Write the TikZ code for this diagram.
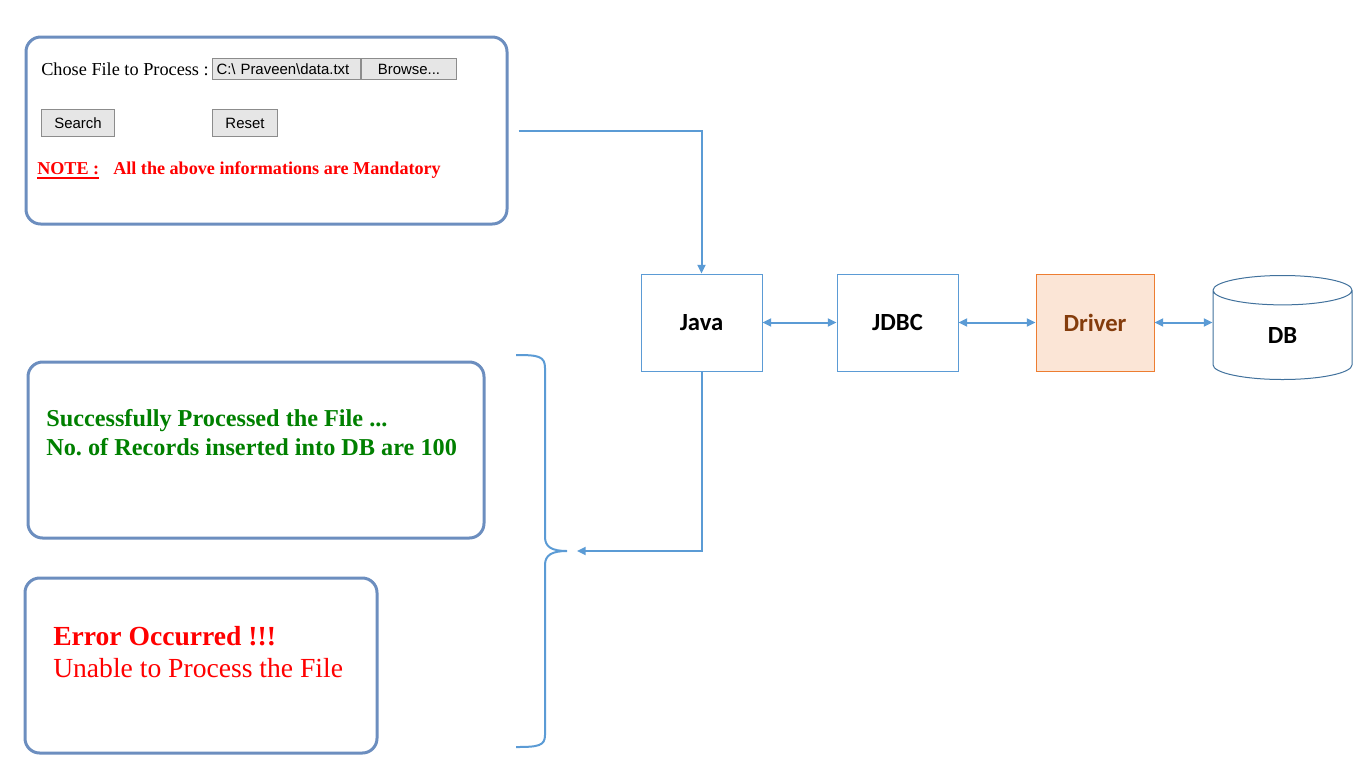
\documentclass[tikz,border=0pt]{standalone}
\usepackage{fontspec}
\usepackage{calc}
\usepackage{xcolor}
\usepackage{tikz}
\setmainfont{Liberation Serif}
\setsansfont{Liberation Sans}
\newfontfamily\calibri{Carlito}
\usetikzlibrary{positioning,arrows.meta,shapes.geometric}

\definecolor{panelblue}{HTML}{6C8EBF}
\definecolor{flowblue}{HTML}{5B9BD5}
\definecolor{dbedge}{HTML}{41719C}
\definecolor{drvfill}{HTML}{FBE5D6}
\definecolor{drvedge}{HTML}{ED7D31}
\definecolor{drvtext}{HTML}{843C0C}
\definecolor{okgreen}{HTML}{008000}
\definecolor{btngray}{HTML}{E6E6E6}
\definecolor{btnedge}{HTML}{8C8C8C}

\newcommand{\noteline}[1]{\rlap{\rule[-3.8pt]{\widthof{#1}}{1.6pt}}#1}

\tikzset{
	panel/.style={draw=panelblue, line width=2.25pt, rounded corners=11pt, inner sep=0pt},
	block/.style={draw=flowblue, line width=0.75pt, inner sep=0pt,
		font=\calibri\bfseries\fontsize{18.5}{18.5}\selectfont,
		minimum width=90.75pt, minimum height=72.75pt},
	flow/.style={draw=flowblue, line width=1.5pt, -{Triangle[length=6.5pt,width=6pt]}},
	twoway/.style={flow, {Triangle[length=6.5pt,width=6pt]}-{Triangle[length=6.5pt,width=6pt]}},
	button/.style={draw=btnedge, fill=btngray, line width=0.75pt, inner sep=0pt,
		font=\sffamily\fontsize{11.2}{11.2}\selectfont, minimum height=20.25pt},
	field/.style={button, minimum height=15.75pt},
	txt/.style={anchor=base west, inner sep=0pt}
}

\begin{document}
\frenchspacing
\begin{tikzpicture}[x=0.75pt, y=-0.75pt]
	\useasboundingbox (0,0) rectangle (1362,768);
	% input form
	\node [panel, minimum width=360.75pt, minimum height=140.25pt] (form) at (266.5,130.5) {};
	\node [txt, font=\fontsize{13.7}{13.7}\selectfont] (chose) at (41,75) {Chose File to Process :};
	\node [field, anchor=north west, text width=105pt, inner xsep=3pt, align=left] (path) at (212,58) {C:\textbackslash{} Praveen\textbackslash data.txt};
	\node [field, right=0pt of path, minimum width=71.25pt] (browse) {Browse...};
	\node [button, anchor=north west, minimum width=54.75pt] (search) at (41,109) {Search};
	\node [button, anchor=north west, minimum width=48.75pt] (reset) at (212,109) {Reset};
	\node [txt, text=red, font=\bfseries\fontsize{13.6}{13.6}\selectfont] (note) at (37,174) {\noteline{NOTE :}};
	\node [txt, text=red, font=\bfseries\fontsize{13.6}{13.6}\selectfont] (mandatory) at (113,174) {All the above informations are Mandatory};

	% result panels
	\node [panel, minimum width=342pt, minimum height=132pt] (success) at (256,450) {};
	\node [txt, text=okgreen, font=\bfseries\fontsize{18.2}{18.2}\selectfont] (done) at (46,426) {Successfully Processed the File ...};
	\node [txt, text=okgreen, font=\bfseries\fontsize{18.2}{18.2}\selectfont] (records) at (46,455) {No. of Records inserted into DB are 100};
	\node [panel, minimum width=264pt, minimum height=131.25pt] (error) at (201,665.5) {};
	\node [txt, text=red, font=\bfseries\fontsize{20.7}{20.7}\selectfont] (oops) at (53,645) {Error Occurred !!!};
	\node [txt, text=red, font=\fontsize{20.7}{20.7}\selectfont] (unable) at (53,677) {Unable to Process the File};

	% chain
	\node [block] (java) at (701.5,322.5) {Java};
	\node [block] (jdbc) at (897.5,322.5) {JDBC};
	\node [block, draw=drvedge, fill=drvfill, text=drvtext, minimum width=88.5pt] (driver) at (1095,322.5) {Driver};
	\node [block, cylinder, draw=dbedge, shape border rotate=90, aspect=1, anchor=north, minimum width=104.25pt, minimum height=78pt] (db) at (1282.5,275) {DB};

	\draw [flow] ([xshift=7.5pt]form.east) -| (java.north);
	\draw [twoway] (java) -- (jdbc);
	\draw [twoway] (jdbc) -- (driver);
	\draw [twoway] (driver.east) -- (driver.east -| db.west);

	% brace
	\coordinate (tip) at (577,551);
	\draw [flowblue, line width=1.5pt] (516,355) .. controls (538,355) and (545,356) .. (545,368) -- (545,537)
		.. controls (545,547) and (552,551) .. (567,551) .. controls (552,551) and (545,555) .. (545,565)
		-- (545,735) .. controls (545,746) and (538,747) .. (516,747);
	\draw [flow] (java.south) |- (tip);
\end{tikzpicture}
\end{document}
